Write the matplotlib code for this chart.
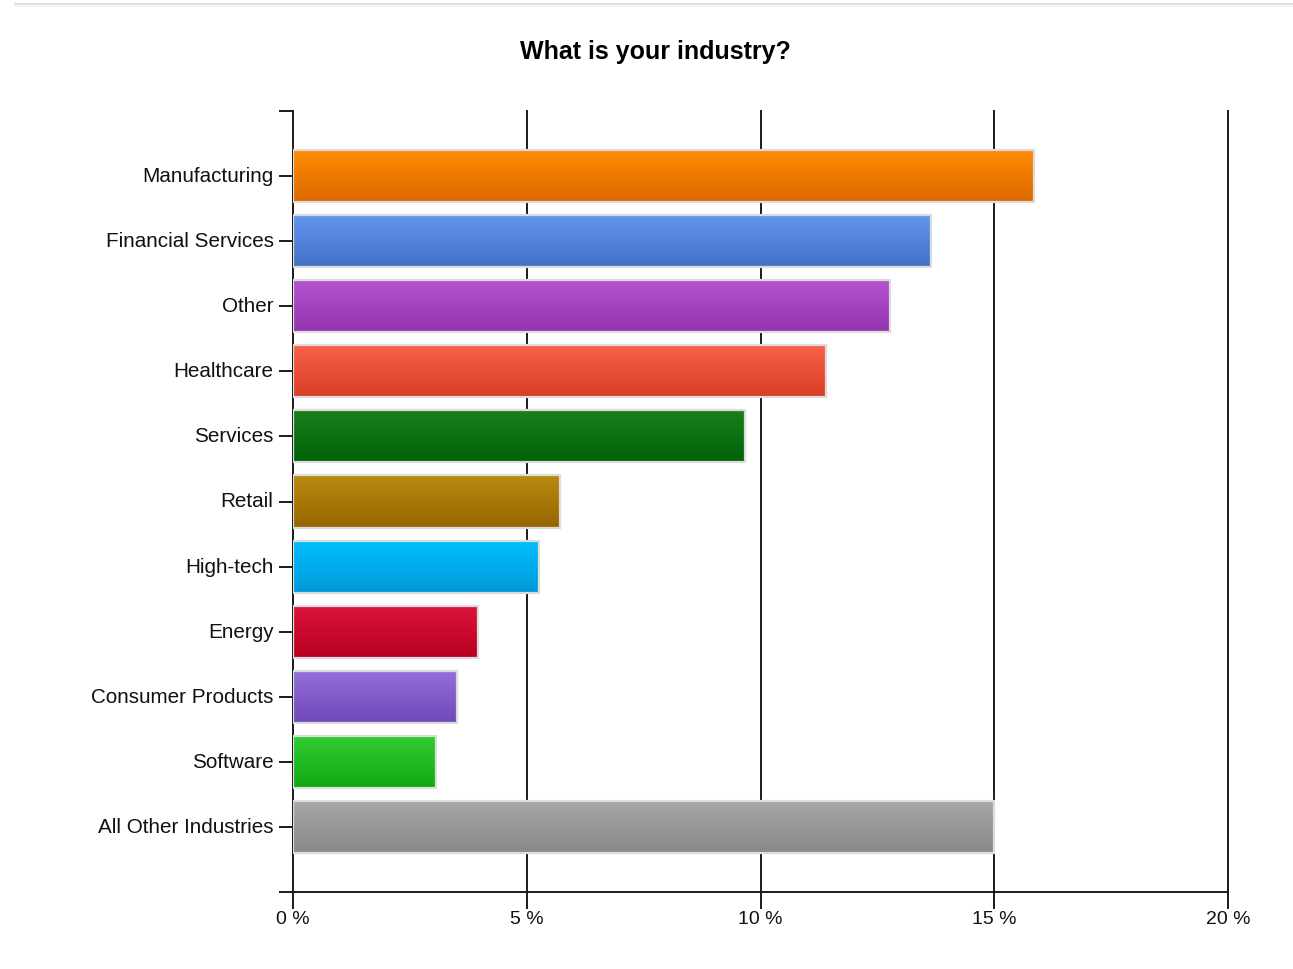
import numpy as np
import matplotlib
matplotlib.use("Agg")
import matplotlib.pyplot as plt
import matplotlib.transforms as mtransforms
from matplotlib.patches import Rectangle
from matplotlib.lines import Line2D
from matplotlib.ticker import FixedLocator, FuncFormatter

plt.rcParams['font.family'] = ['Liberation Sans', 'DejaVu Sans']

# Survey results: share of respondents per industry (%)
industries = ["Manufacturing", "Financial Services", "Other", "Healthcare",
              "Services", "Retail", "High-tech", "Energy",
              "Consumer Products", "Software", "All Other Industries"]
shares = [15.85, 13.64, 12.76, 11.41, 9.66, 5.72, 5.27, 3.96, 3.51, 3.06, 15.0]

# Gradient colours for each bar: (top, bottom)
top_colors = ["#ff8c00", "#6495ed", "#b653d0", "#fa6248", "#1b7f1b", "#bb8a10",
              "#00bfff", "#dc143c", "#9370db", "#32cd32", "#a8a8a8"]
bottom_colors = ["#dc6a00", "#4272c8", "#9235b0", "#d83e26", "#00630a", "#986400",
                 "#0099d8", "#b8001f", "#7048b8", "#12a712", "#888888"]

x_ticks = [0, 5, 10, 15, 20]
title = "What is your industry?"


def hex_rgb(h):
    h = h.lstrip("#")
    return np.array([int(h[i:i + 2], 16) / 255 for i in (0, 2, 4)])


fig = plt.figure(figsize=(12.93, 9.70), dpi=100)
ax = fig.add_axes([293 / 1293, 1 - 893 / 970, (1228 - 293) / 1293, (893 - 112) / 970])

n = len(industries)
ypos = np.arange(n)
bar_h = 0.8

for xv in x_ticks[1:]:
    ax.axvline(xv, color="#1a1a1a", lw=1.4, zorder=0.5, clip_on=False)

for y, v, c0, c1 in zip(ypos, shares, top_colors, bottom_colors):
    t = np.linspace(0, 1, 64)[:, None, None]
    grad = hex_rgb(c0)[None, None, :] * (1 - t) + hex_rgb(c1)[None, None, :] * t
    ax.imshow(grad, extent=(0, v, y + bar_h / 2, y - bar_h / 2), origin="upper",
              aspect="auto", interpolation="bilinear", zorder=2)
    ax.add_patch(Rectangle((0, y - bar_h / 2), v, bar_h, fill=False,
                           edgecolor="#dcdcdc", lw=1.6, zorder=3))

ax.set_xlim(0, 20)
ax.set_ylim(n, -1)

ax.set_yticks(ypos)
ax.set_yticklabels(industries, fontsize=14.9, color="#111111")
ax.yaxis.set_minor_locator(FixedLocator([-1, n]))
ax.tick_params(axis="y", which="both", length=10, width=1.4, color="#1a1a1a", pad=4)
shift_up = mtransforms.ScaledTranslation(0, 2.5 / 100, fig.dpi_scale_trans)
for lbl in ax.get_yticklabels():
    lbl.set_transform(lbl.get_transform() + shift_up)

ax.xaxis.set_major_locator(FixedLocator(x_ticks))
ax.xaxis.set_major_formatter(FuncFormatter(lambda v, p: f"{v:g} %"))
ax.tick_params(axis="x", length=12, width=1.4, color="#1a1a1a", pad=1,
               labelsize=14, labelcolor="#111111")

for side in ("top", "right"):
    ax.spines[side].set_visible(False)
for side in ("left", "bottom"):
    ax.spines[side].set_color("#1a1a1a")
    ax.spines[side].set_linewidth(1.4)

fig.text(655 / 1293, 1 - 52 / 970, title, ha="center", va="center",
         fontsize=18, fontweight="bold", color="#000000")

# light frame edge along the top of the panel
for dy, col in [(0, "#d8d8d8"), (1.2, "#eaeaea"), (2.4, "#f4f4f4")]:
    fig.add_artist(Line2D([15 / 1293, 1], [1 - (5 + dy) / 970] * 2,
                          transform=fig.transFigure, color=col, lw=1.3))

fig.savefig("out.png", dpi=100, facecolor="white")
